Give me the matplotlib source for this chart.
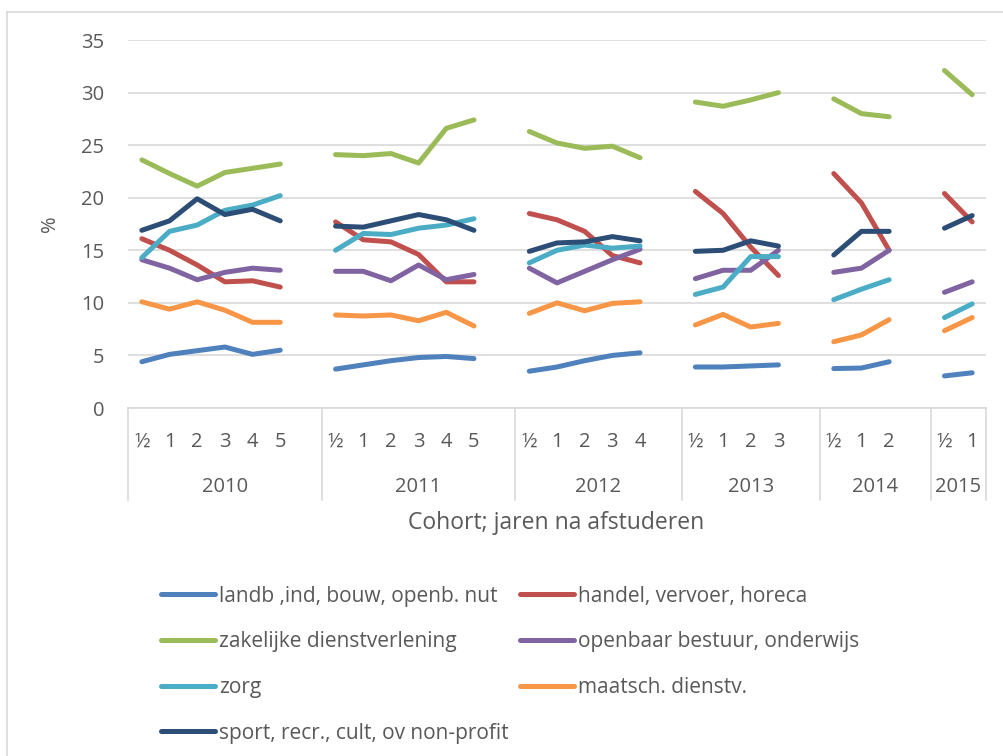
import matplotlib
matplotlib.use('Agg')
import matplotlib.pyplot as plt
import matplotlib.transforms as mtransforms
import numpy as np

plt.rcParams['font.family'] = ['Open Sans', 'DejaVu Sans']

# cohorten en jaren na afstuderen
cohorts = ['2010', '2011', '2012', '2013', '2014', '2015']
years_after = [['½', '1', '2', '3', '4', '5'],
               ['½', '1', '2', '3', '4', '5'],
               ['½', '1', '2', '3', '4'],
               ['½', '1', '2', '3'],
               ['½', '1', '2'],
               ['½', '1']]

# percentages per sector, per cohort
landb = [[4.4, 5.1, 5.45, 5.8, 5.1, 5.5],
         [3.7, 4.1, 4.5, 4.8, 4.9, 4.7],
         [3.5, 3.9, 4.5, 5.0, 5.25],
         [3.9, 3.9, 4.0, 4.1],
         [3.75, 3.8, 4.4],
         [3.05, 3.35]]
handel = [[16.1, 15.0, 13.6, 12.0, 12.1, 11.5],
          [17.7, 16.0, 15.8, 14.6, 12.0, 12.0],
          [18.5, 17.9, 16.8, 14.5, 13.8],
          [20.6, 18.5, 15.3, 12.6],
          [22.3, 19.5, 15.0],
          [20.4, 17.7]]
zakelijk = [[23.6, 22.3, 21.1, 22.4, 22.8, 23.2],
            [24.1, 24.0, 24.2, 23.3, 26.6, 27.4],
            [26.3, 25.2, 24.7, 24.9, 23.8],
            [29.1, 28.7, 29.3, 30.0],
            [29.4, 28.0, 27.7],
            [32.1, 29.8]]
openbaar = [[14.1, 13.3, 12.2, 12.9, 13.3, 13.1],
            [13.0, 13.0, 12.1, 13.6, 12.2, 12.7],
            [13.3, 11.9, 13.0, 14.1, 15.1],
            [12.3, 13.1, 13.1, 15.0],
            [12.9, 13.3, 15.0],
            [11.0, 12.0]]
zorg = [[14.3, 16.8, 17.4, 18.8, 19.3, 20.2],
        [15.0, 16.6, 16.5, 17.1, 17.4, 18.0],
        [13.8, 15.0, 15.5, 15.2, 15.4],
        [10.8, 11.5, 14.4, 14.4],
        [10.3, 11.3, 12.2],
        [8.6, 9.9]]
maatsch = [[10.1, 9.4, 10.1, 9.3, 8.15, 8.15],
           [8.85, 8.75, 8.85, 8.3, 9.1, 7.8],
           [9.0, 10.0, 9.25, 9.95, 10.1],
           [7.9, 8.9, 7.7, 8.05],
           [6.3, 6.95, 8.4],
           [7.35, 8.6]]
sport = [[16.9, 17.8, 19.9, 18.4, 18.9, 17.8],
         [17.3, 17.2, 17.8, 18.4, 17.9, 16.9],
         [14.9, 15.7, 15.8, 16.3, 15.9],
         [14.9, 15.0, 15.9, 15.4],
         [14.55, 16.8, 16.8],
         [17.1, 18.3]]

series = [
    ('landb ,ind, bouw, openb. nut', landb, '#4F81BD'),
    ('handel, vervoer, horeca', handel, '#C0504D'),
    ('zakelijke dienstverlening', zakelijk, '#9BBB59'),
    ('openbaar bestuur, onderwijs', openbaar, '#8064A2'),
    ('zorg', zorg, '#4BACC6'),
    ('maatsch. dienstv.', maatsch, '#F79646'),
    ('sport, recr., cult, ov non-profit', sport, '#2C4D75'),
]

# categorie-posities: elke cohort gevolgd door een lege categorie (behalve de laatste)
starts = []
pos = 0
for i, ya in enumerate(years_after):
    starts.append(pos)
    pos += len(ya) + (1 if i < len(years_after) - 1 else 0)
n_cat = pos

text_col = '#595959'
grid_col = '#D9D9D9'
fs = 14.5

fig = plt.figure(figsize=(10.04, 7.56), dpi=100)
ax = fig.add_axes([128 / 1004, 1 - 408 / 756, (986 - 128) / 1004, 368 / 756])

handles = {}
for name, data, col in series:
    for g, vals in enumerate(data):
        x = starts[g] + np.arange(len(vals))
        ln, = ax.plot(x, vals, color=col, lw=3.6, solid_capstyle='round',
                      solid_joinstyle='round')
        if g == 0:
            handles[name] = ln

ax.set_xlim(-0.5, n_cat - 0.5)
ax.set_ylim(0, 35)
ax.set_yticks(range(0, 36, 5))
ax.yaxis.grid(True, color=grid_col, lw=1.2)
ax.set_axisbelow(True)
for s in ['left', 'right', 'top']:
    ax.spines[s].set_visible(False)
ax.spines['bottom'].set_color(grid_col)
ax.spines['bottom'].set_linewidth(1.2)
ax.tick_params(axis='y', length=0, pad=17, labelsize=fs, labelcolor=text_col)
ax.set_xticks([])

# twee-niveau categorie-as
trans = mtransforms.blended_transform_factory(ax.transData, ax.transAxes)
for g, ya in enumerate(years_after):
    for j, lab in enumerate(ya):
        ax.text(starts[g] + j, -34 / 368, lab, transform=trans, ha='center',
                va='center', fontsize=fs, color=text_col)
    end = starts[g + 1] if g + 1 < len(starts) else n_cat
    ax.text((starts[g] + end) / 2 - 0.5, -79 / 368, cohorts[g], transform=trans,
            ha='center', va='center', fontsize=fs, color=text_col)
bounds = starts + [n_cat]
for b in bounds:
    ax.plot([b - 0.5, b - 0.5], [0, -92 / 368], transform=trans, color=grid_col,
            lw=1.2, clip_on=False)

ax.set_ylabel('%', fontsize=fs, color=text_col)
ax.yaxis.set_label_coords(-(128 - 60) / 858, 0.5)
fig.text(556 / 1004, 1 - 523 / 756, 'Cohort; jaren na afstuderen', ha='center',
         va='center', fontsize=16.5, color=text_col)

order = ['landb ,ind, bouw, openb. nut', 'zakelijke dienstverlening', 'zorg',
         'sport, recr., cult, ov non-profit', 'handel, vervoer, horeca',
         'openbaar bestuur, onderwijs', 'maatsch. dienstv.']
leg = fig.legend([handles[k] for k in order], order, ncol=2, frameon=False,
                 loc='upper left', bbox_to_anchor=(142 / 1004, 1 - 567 / 756),
                 fontsize=15, handlelength=2.6, handletextpad=0.2,
                 columnspacing=0.55, labelspacing=1.18, labelcolor=text_col)

# rand van de grafiek
fig.add_artist(plt.Line2D([7.5 / 1004, 7.5 / 1004], [0, 1 - 12 / 756], color=grid_col,
                          lw=1.2, transform=fig.transFigure))
fig.add_artist(plt.Line2D([7.5 / 1004, 1], [1 - 12 / 756, 1 - 12 / 756], color=grid_col,
                          lw=1.2, transform=fig.transFigure))

fig.savefig('out.png', dpi=100)
